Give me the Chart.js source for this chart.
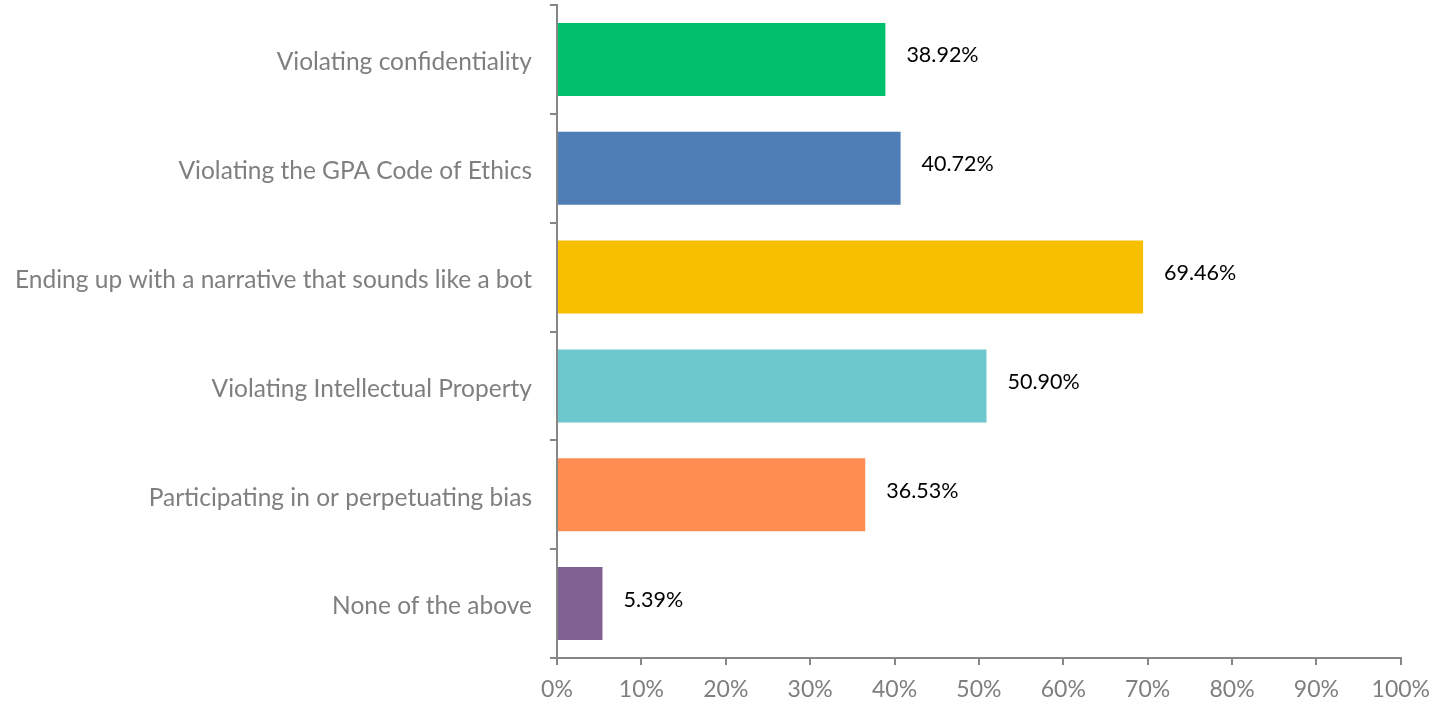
<!DOCTYPE html>
<html lang="en">
<head>
  <meta charset="UTF-8">
  <title>Concerns</title>
  <script src="https://cdn.jsdelivr.net/npm/chart.js"></script>
  <style>
    html, body { margin: 0; padding: 0; background: #fff; overflow: hidden; }
    canvas { display: block; }
  </style>
</head>
<body>
  <canvas id="chart" width="1441" height="705"></canvas>
  <script>
    // Données
    const categories = [
      'Violating confidentiality',
      'Violating the GPA Code of Ethics',
      'Ending up with a narrative that sounds like a bot',
      'Violating Intellectual Property',
      'Participating in or perpetuating bias',
      'None of the above'
    ];
    const values = [38.92, 40.72, 69.46, 50.90, 36.53, 5.39];
    const colors = ['#00C06E', '#4F7DB5', '#F8BE00', '#6CC8CC', '#FF8C50', '#7F6091'];
    const xTicks = [0, 10, 20, 30, 40, 50, 60, 70, 80, 90, 100];

    const FONT = 'Lato, "Open Sans", sans-serif';
    const AXIS = '#868686';

    // Étiquettes de valeur à droite des barres
    const valueLabels = {
      id: 'valueLabels',
      afterDatasetsDraw(chart) {
        const ctx = chart.ctx;
        const meta = chart.getDatasetMeta(0);
        ctx.save();
        ctx.font = '21.5px ' + FONT;
        ctx.fillStyle = '#000';
        ctx.textBaseline = 'middle';
        ctx.textAlign = 'left';
        meta.data.forEach((bar, i) => {
          ctx.fillText(values[i].toFixed(2) + '%', bar.x + 21, bar.y - 4);
        });
        ctx.restore();
      }
    };

    new Chart(document.getElementById('chart').getContext('2d'), {
      type: 'bar',
      data: {
        labels: categories,
        datasets: [{
          data: values,
          backgroundColor: colors,
          borderWidth: 0,
          categoryPercentage: 1,
          barPercentage: 0.67
        }]
      },
      options: {
        indexAxis: 'y',
        responsive: false,
        animation: false,
        devicePixelRatio: 1,
        layout: { padding: { top: 5, right: 40, left: 0, bottom: 0 } },
        plugins: { legend: { display: false }, tooltip: { enabled: false } },
        scales: {
          x: {
            min: 0,
            max: 100,
            afterBuildTicks(axis) { axis.ticks = xTicks.map(v => ({ value: v })); },
            afterFit(axis) { axis.height = 47; },
            border: { color: AXIS, width: 2 },
            grid: { drawOnChartArea: false, tickLength: 7, color: AXIS, lineWidth: 2 },
            ticks: {
              color: '#7F7F7F',
              font: { family: FONT, size: 23 },
              padding: 11,
              callback: v => v + '%'
            }
          },
          y: {
            afterFit(axis) {
              axis.width = 557;
              axis.paddingTop = 0;
              axis.paddingBottom = 0;
            },
            border: { color: AXIS, width: 2 },
            grid: { drawOnChartArea: false, tickLength: 7, color: AXIS, lineWidth: 2, offset: true },
            ticks: {
              color: '#7F7F7F',
              font: { family: FONT, size: 24.5 },
              padding: 18,
              labelOffset: 3
            }
          }
        }
      },
      plugins: [valueLabels]
    });
  </script>
</body>
</html>
